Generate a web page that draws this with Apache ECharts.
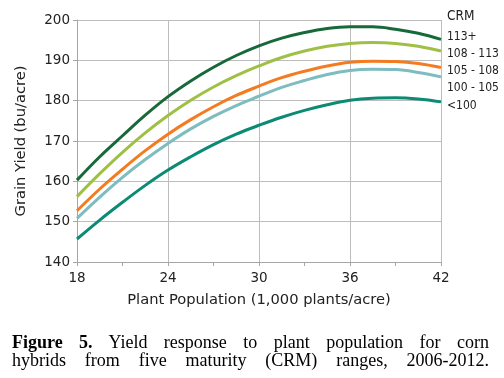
<!DOCTYPE html>
<html>
<head>
<meta charset="utf-8">
<script src="https://cdn.jsdelivr.net/npm/echarts@6/dist/echarts.min.js"></script>
<style>
html,body{margin:0;padding:0;background:#fff;}
#chart{position:absolute;left:0;top:0;width:504px;height:378px;}
.cap{position:absolute;left:12px;width:477px;font-family:"Liberation Serif","DejaVu Serif",serif;font-size:18px;line-height:18px;color:#000;text-align:justify;text-align-last:justify;white-space:nowrap;}
</style>
</head>
<body>
<div id="chart"></div>
<div class="cap" style="top:333px;"><b>Figure 5.</b> Yield response to plant population for corn</div>
<div class="cap" style="top:351px;">hybrids from five maturity (CRM) ranges, 2006-2012.</div>
<script>
const population = [18, 19.5, 21, 22.5, 24, 25.5, 27, 28.5, 30, 31.5, 33, 34.5, 36, 37.5, 39, 40.5, 42];
const seriesNames = ['113+', '108 - 113', '105 - 108', '100 - 105', '<100'];
const crm113plus  = [160.3, 166.1, 171.3, 176.4, 181.0, 184.9, 188.3, 191.2, 193.6, 195.5, 196.9, 197.9, 198.3, 198.3, 197.7, 196.7, 195.2];
const crm108to113 = [156.2, 161.9, 167.2, 172.0, 176.3, 180.1, 183.4, 186.2, 188.6, 190.7, 192.3, 193.5, 194.2, 194.4, 194.2, 193.5, 192.3];
const crm105to108 = [152.7, 158.1, 163.0, 167.6, 171.7, 175.3, 178.5, 181.3, 183.6, 185.7, 187.3, 188.6, 189.5, 189.8, 189.7, 189.2, 188.2];
const crm100to105 = [150.8, 156.1, 161.0, 165.4, 169.4, 173.0, 176.1, 178.8, 181.1, 183.3, 185.0, 186.5, 187.5, 187.8, 187.7, 187.0, 185.9];
const crmBelow100 = [145.7, 150.4, 154.8, 159.0, 162.8, 166.1, 169.1, 171.7, 173.9, 175.9, 177.6, 179.0, 180.1, 180.6, 180.7, 180.4, 179.7];
const xTicks = [18, 24, 30, 36, 42];
const yTicks = [140, 150, 160, 170, 180, 190, 200];
const legendTitle = 'CRM';

const allValues = [crm113plus, crm108to113, crm105to108, crm100to105, crmBelow100];
const colors = ['#17693a', '#9fc044', '#f47b20', '#7dbcbf', '#0b8b73'];
const labelY = [38, 55, 72, 89, 107];

const chart = echarts.init(document.getElementById('chart'), null, {renderer: 'canvas'});
const font = '"DejaVu Sans", Verdana, sans-serif';
const condFont = '"DejaVu Sans Condensed", "DejaVu Sans", sans-serif';

const series = allValues.map((vals, i) => ({
  name: seriesNames[i],
  type: 'line',
  smooth: 0.4,
  symbol: 'none',
  data: population.map((p, j) => [p, vals[j]]),
  lineStyle: {color: colors[i], width: 3},
  itemStyle: {color: colors[i]},
  z: 10 - i
}));

const graphics = [{
  type: 'text', left: 447, top: 9,
  style: {text: legendTitle, font: '13.5px ' + condFont, fill: '#222'}
}].concat(seriesNames.map((n, i) => ({
  type: 'text', left: 447, top: labelY[i] - 7,
  style: {text: n, font: '12px ' + condFont, fill: '#222'}
})));

chart.setOption({
  animation: false,
  backgroundColor: '#fff',
  grid: {left: 77, right: 63, top: 20, bottom: 116},
  xAxis: {
    type: 'value',
    min: xTicks[0], max: xTicks[xTicks.length - 1], interval: 6,
    name: 'Plant Population (1,000 plants/acre)',
    nameLocation: 'middle', nameGap: 31,
    nameTextStyle: {fontFamily: font, fontSize: 14.7, color: '#222'},
    axisLine: {show: true, lineStyle: {color: '#a6a6a6', width: 1}},
    axisTick: {show: true, length: 4, lineStyle: {color: '#a6a6a6'}},
    minorTick: {show: true, splitNumber: 2, length: 4, lineStyle: {color: '#a6a6a6'}},
    axisLabel: {fontFamily: font, fontSize: 13.5, color: '#222', margin: 9},
    splitLine: {show: true, lineStyle: {color: '#bdbdbd', width: 1}}
  },
  yAxis: {
    type: 'value',
    min: yTicks[0], max: yTicks[yTicks.length - 1], interval: 10,
    name: 'Grain Yield (bu/acre)',
    nameLocation: 'middle', nameGap: 48, nameRotate: 90,
    nameTextStyle: {fontFamily: font, fontSize: 14.7, color: '#222'},
    axisLine: {show: true, lineStyle: {color: '#a6a6a6', width: 1}},
    axisTick: {show: true, length: 4, lineStyle: {color: '#a6a6a6'}},
    axisLabel: {fontFamily: font, fontSize: 13.5, color: '#222', margin: 7},
    splitLine: {show: true, lineStyle: {color: '#bdbdbd', width: 1}}
  },
  graphic: graphics,
  series: series
});
</script>
</body>
</html>
